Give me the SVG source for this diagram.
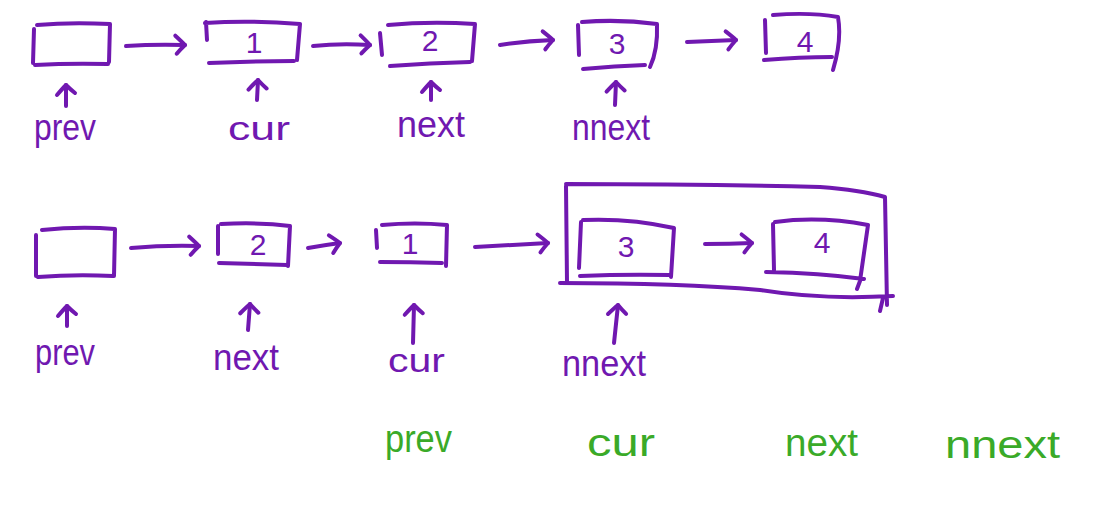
<svg xmlns="http://www.w3.org/2000/svg" width="1108" height="515" viewBox="0 0 1108 515">
<defs>
<style>
.s{fill:none;stroke:#7018b0;stroke-width:4;stroke-linecap:round;stroke-linejoin:round}
.t{font-family:"Liberation Sans","DejaVu Sans",sans-serif;fill:#7018b0}
.n{font-family:"Liberation Sans","DejaVu Sans",sans-serif;fill:#7018b0;font-size:30px;text-anchor:middle}
.g{font-family:"Liberation Sans","DejaVu Sans",sans-serif;fill:#3aaa28;font-size:38px}
</style>
<marker id="ah" markerUnits="userSpaceOnUse" viewBox="-14 -12 18 24" markerWidth="18" markerHeight="24" refX="0" refY="0" orient="auto" overflow="visible">
<path d="M -10 -9 Q -3 -3 0 0 Q -4 4 -8 9" fill="none" stroke="#7018b0" stroke-width="4" stroke-linecap="round" stroke-linejoin="round"/>
</marker>
</defs>
<rect width="1108" height="515" fill="#ffffff"/>

<!-- Row 1 nodes -->
<g id="r1-n0"><path class="s" d="M34 29 L33 63 M37 25 Q70 22 110 24 L109 62 M35 65 Q70 63 108 64"/></g>
<g id="r1-n1"><path class="s" d="M206 22 L207 40 M205 23 Q250 20 300 24 L297 60 M209 63 Q250 61 294 61"/><text class="n" x="254" y="53">1</text></g>
<g id="r1-n2"><path class="s" d="M380 33 L382 55 M388 25 Q430 21 475 24 L472 61 M390 66 Q430 63 470 62"/><text class="n" x="430" y="51">2</text></g>
<g id="r1-n3"><path class="s" d="M578 25 L579 55 M582 22 Q620 19 657 24 Q658 50 650 67 M583 69 Q615 66 645 65"/><text class="n" x="617" y="54">3</text></g>
<g id="r1-n4"><path class="s" d="M765 20 L766 53 M773 15 Q810 12 838 17 Q842 40 833 70 M764 60 Q800 57 832 57"/><text class="n" x="805" y="52" font-size="34">4</text></g>

<!-- Row 2 nodes -->
<g id="r2-n0"><path class="s" d="M36 235 L36 276 M42 230 Q80 226 115 229 L114 276 M38 277 Q75 274 113 276"/></g>
<g id="r2-n1"><path class="s" d="M218 226 L218 254 M221 224 Q260 222 290 226 L288 266 M219 263 Q255 264 287 265"/><text class="n" x="258" y="255">2</text></g>
<g id="r2-n2"><path class="s" d="M376 230 L377 248 M382 225 Q415 222 447 225 L446 266 M380 262 Q410 262 442 263"/><text class="n" x="410" y="254">1</text></g>
<g id="r2-group"><path class="s" d="M566 186 L567 282 M566 184 Q700 184 820 187 Q860 190 885 197 L887 305 M560 283 Q680 283 760 290 Q820 300 893 296 M883 298 L880 311"/></g>
<g id="r2-n3"><path class="s" d="M581 222 L579 268 M583 220 Q630 218 674 228 L671 277 M580 276 Q625 274 670 275"/><text class="n" x="626" y="257" font-size="32">3</text></g>
<g id="r2-n4"><path class="s" d="M773 224 L774 270 M775 222 Q820 216 868 225 L860 281 M766 272 Q820 273 864 279 M860 281 L857 289"/><text class="n" x="822" y="253" font-size="34">4</text></g>

<!-- Connectors -->
<g id="connectors">
<path class="s" marker-end="url(#ah)" d="M126 46 Q155 44 185 45"/>
<path class="s" marker-end="url(#ah)" d="M313 46 Q340 43 370 45"/>
<path class="s" marker-end="url(#ah)" d="M500 45 Q525 41 553 40"/>
<path class="s" marker-end="url(#ah)" d="M687 42 Q712 41 736 40"/>
<path class="s" marker-end="url(#ah)" d="M131 248 Q165 245 199 246"/>
<path class="s" marker-end="url(#ah)" d="M308 248 Q325 245 340 243"/>
<path class="s" marker-end="url(#ah)" d="M475 247 Q510 245 548 243"/>
<path class="s" marker-end="url(#ah)" d="M705 244 Q730 244 752 243"/>
<!-- pointer arrows -->
<path class="s" marker-end="url(#ah)" d="M66 106 L66 85"/>
<path class="s" marker-end="url(#ah)" d="M257 100 L258 80"/>
<path class="s" marker-end="url(#ah)" d="M431 100 L431 82"/>
<path class="s" marker-end="url(#ah)" d="M615 105 L616 82"/>
<path class="s" marker-end="url(#ah)" d="M67 326 L67 306"/>
<path class="s" marker-end="url(#ah)" d="M248 330 L250 304"/>
<path class="s" marker-end="url(#ah)" d="M413 343 L414 305"/>
<path class="s" marker-end="url(#ah)" d="M614 343 L618 305"/>
</g>

<!-- Purple labels -->
<text class="t" x="34" y="140" font-size="36" textLength="62" lengthAdjust="spacingAndGlyphs">prev</text>
<text class="t" x="228" y="140" font-size="33" textLength="62" lengthAdjust="spacingAndGlyphs">cur</text>
<text class="t" x="397" y="137" font-size="36" textLength="68" lengthAdjust="spacingAndGlyphs">next</text>
<text class="t" x="572" y="140" font-size="36" textLength="78" lengthAdjust="spacingAndGlyphs">nnext</text>
<text class="t" x="35" y="365" font-size="36" textLength="60" lengthAdjust="spacingAndGlyphs">prev</text>
<text class="t" x="213" y="370" font-size="36" textLength="66" lengthAdjust="spacingAndGlyphs">next</text>
<text class="t" x="388" y="372" font-size="33" textLength="57" lengthAdjust="spacingAndGlyphs">cur</text>
<text class="t" x="562" y="376" font-size="36" textLength="84" lengthAdjust="spacingAndGlyphs">nnext</text>

<!-- Green labels -->
<text class="g" x="385" y="452" textLength="67" lengthAdjust="spacingAndGlyphs">prev</text>
<text class="g" x="587" y="456" font-size="35" textLength="68" lengthAdjust="spacingAndGlyphs">cur</text>
<text class="g" x="785" y="456" textLength="73" lengthAdjust="spacingAndGlyphs">next</text>
<text class="g" x="945" y="458" textLength="115" lengthAdjust="spacingAndGlyphs">nnext</text>
</svg>
